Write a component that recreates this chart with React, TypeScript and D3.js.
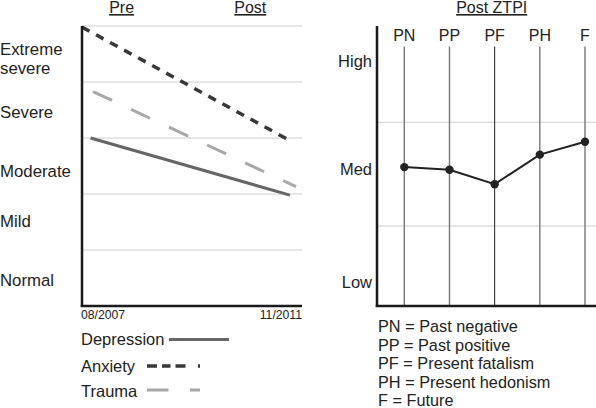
import React from "react";
import * as d3 from "d3";

// ---------- Data ----------
const periodLabels = ["Pre", "Post"];
const periodPositions = [0.18, 0.765];
const dateLabels = ["08/2007", "11/2011"];

const severityLevels = ["Normal", "Mild", "Moderate", "Severe", "Extreme severe"];
const severityTickValues = [0.36, 1.41, 2.3, 3.36, 4.48];
const severityGrid = [1, 2, 3, 4, 5];

const seriesNames = ["Depression", "Anxiety", "Trauma"];
const depression = [
  { t: 0.039, v: 3.0 },
  { t: 0.945, v: 1.98 },
];
const anxiety = [
  { t: 0.0, v: 4.98 },
  { t: 0.933, v: 2.98 },
];
const trauma = [
  { t: 0.05, v: 3.83 },
  { t: 0.973, v: 2.13 },
];

const ztpiCategories = ["PN", "PP", "PF", "PH", "F"];
const ztpiValues = [1.068, 1.042, 0.903, 1.188, 1.313];
const ztpiLevels = ["Low", "Med", "High"];
const ztpiTickValues = [-0.1, 0.99, 2.03];
const ztpiGrid = [0.5, 1.5];
const ztpiLegend = [
  "PN = Past negative",
  "PP = Past positive",
  "PF = Present fatalism",
  "PH = Present hedonism",
  "F = Future",
];

const FONT = "'Liberation Sans', Arial, Helvetica, sans-serif";
const TEXT = "#222";

export default function App() {
  // Left panel scales
  const xL = d3.scaleLinear().domain([0, 1]).range([82, 302]);
  const yL = d3.scaleLinear().domain([0, 5]).range([306, 26]);
  const lineL = d3
    .line<{ t: number; v: number }>()
    .x((d) => xL(d.t))
    .y((d) => yL(d.v));

  // Right panel scales
  const xR = d3.scalePoint<string>().domain(ztpiCategories).range([404.3, 585]);
  const yR = d3.scaleLinear().domain([0, 2]).range([277.85, 70.45]);
  const lineR = d3
    .line<number>()
    .x((_, i) => xR(ztpiCategories[i]) as number)
    .y((d) => yR(d));

  const seriesStyles = [
    { data: depression, stroke: "#666", width: 3, dash: undefined as string | undefined },
    { data: anxiety, stroke: "#383838", width: 3.5, dash: "8.5,7.5" },
    { data: trauma, stroke: "#a8a8a8", width: 3, dash: "21,21" },
  ];

  const legendRows = [
    { y: 345, lineY: 339.5, x1: 169, x2: 229, dash: undefined as string | undefined },
    { y: 371.5, lineY: 366, x1: 147, x2: 200, dash: "10,5,8.5,5,10,12.5,2,20" },
    { y: 396.5, lineY: 390, x1: 147, x2: 200, dash: "21.5,21.5" },
  ];

  return (
    <svg
      width={596}
      height={408}
      style={{ position: "absolute", left: 0, top: 0, background: "#fff" }}
      fontFamily={FONT}
    >
      <rect x={0} y={0} width={596} height={408} fill="#fff" />

      {/* ---------- Left panel ---------- */}
      {severityGrid.map((g) => (
        <line
          key={"lg" + g}
          x1={xL(0)}
          x2={xL(1)}
          y1={yL(g)}
          y2={yL(g)}
          stroke="#cfcfcf"
          strokeWidth={1}
        />
      ))}

      {periodLabels.map((p, i) => (
        <text
          key={p}
          x={xL(periodPositions[i])}
          y={13}
          fontSize={16}
          fill={TEXT}
          textAnchor="middle"
          textDecoration="underline"
        >
          {p}
        </text>
      ))}

      {severityLevels.map((s, i) => {
        const parts = s.split(" ");
        if (parts.length > 1) {
          return (
            <text key={s} x={0} y={yL(severityTickValues[i])} fontSize={16.8} fill={TEXT}>
              <tspan x={0}>{parts[0]}</tspan>
              <tspan x={0} dy={19}>
                {parts.slice(1).join(" ")}
              </tspan>
            </text>
          );
        }
        return (
          <text key={s} x={0} y={yL(severityTickValues[i])} fontSize={16.8} fill={TEXT}>
            {s}
          </text>
        );
      })}

      {seriesStyles.map((s, i) => (
        <path
          key={seriesNames[i]}
          d={lineL(s.data) || ""}
          fill="none"
          stroke={s.stroke}
          strokeWidth={s.width}
          strokeDasharray={s.dash}
        />
      ))}

      {/* axes */}
      <line x1={xL(0)} x2={xL(0)} y1={yL(5)} y2={yL(0) + 1} stroke="#1a1a1a" strokeWidth={2.5} />
      <line x1={xL(0) - 1.25} x2={xL(1)} y1={yL(0)} y2={yL(0)} stroke="#1a1a1a" strokeWidth={2.5} />

      <text x={xL(0) - 1} y={318.5} fontSize={12.2} fill={TEXT}>
        {dateLabels[0]}
      </text>
      <text x={xL(1)} y={318.5} fontSize={12.2} fill={TEXT} textAnchor="end">
        {dateLabels[1]}
      </text>

      {/* legend */}
      {seriesNames.map((n, i) => (
        <g key={"leg" + n}>
          <text x={81} y={legendRows[i].y} fontSize={16.5} fill={TEXT}>
            {n}
          </text>
          <line
            x1={legendRows[i].x1}
            x2={legendRows[i].x2}
            y1={legendRows[i].lineY}
            y2={legendRows[i].lineY}
            stroke={seriesStyles[i].stroke}
            strokeWidth={seriesStyles[i].width}
            strokeDasharray={legendRows[i].dash}
          />
        </g>
      ))}

      {/* ---------- Right panel ---------- */}
      <text
        x={491.7}
        y={13}
        fontSize={16}
        fill={TEXT}
        textAnchor="middle"
        textDecoration="underline"
      >
        Post ZTPI
      </text>

      {ztpiGrid.map((g) => (
        <line
          key={"rg" + g}
          x1={377}
          x2={596}
          y1={yR(g)}
          y2={yR(g)}
          stroke="#cfcfcf"
          strokeWidth={1}
        />
      ))}

      {ztpiCategories.map((c) => (
        <g key={c}>
          <line
            x1={xR(c) as number}
            x2={xR(c) as number}
            y1={46.5}
            y2={306}
            stroke={c === "PF" ? "#222" : "#777"}
            strokeWidth={c === "PF" ? 1 : 1.4}
          />
          <text x={xR(c) as number} y={40.7} fontSize={16} fill={TEXT} textAnchor="middle">
            {c}
          </text>
        </g>
      ))}

      {ztpiLevels.map((l, i) => (
        <text key={l} x={372} y={yR(ztpiTickValues[i])} fontSize={16.5} fill={TEXT} textAnchor="end">
          {l}
        </text>
      ))}

      <path d={lineR(ztpiValues) || ""} fill="none" stroke="#222" strokeWidth={2} />
      {ztpiValues.map((v, i) => (
        <circle key={"pt" + i} cx={xR(ztpiCategories[i]) as number} cy={yR(v)} r={4.2} fill="#222" />
      ))}

      <line x1={377} x2={377} y1={26} y2={307} stroke="#1a1a1a" strokeWidth={2.5} />
      <line x1={375.75} x2={596} y1={306} y2={306} stroke="#1a1a1a" strokeWidth={2.5} />

      {ztpiLegend.map((t, i) => (
        <text key={t} x={378} y={332.3 + i * 18.45} fontSize={16.3} fill={TEXT}>
          {t}
        </text>
      ))}
    </svg>
  );
}
